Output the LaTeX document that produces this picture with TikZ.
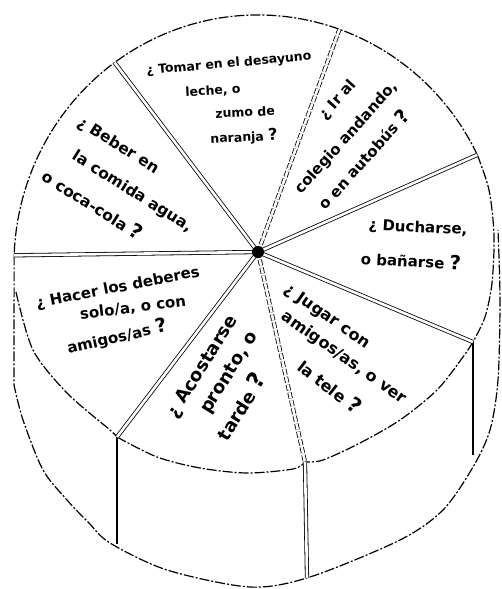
\documentclass[tikz,border=0pt]{standalone}
\usepackage{fontspec}
\setmainfont{DejaVu Sans}
\usepackage{graphicx}
\usetikzlibrary{calc}
\newcommand{\qsize}[1]{\bfseries\fontsize{#1}{#1}\selectfont}
\newcommand{\qm}{\scalebox{1.3}{?}}
\tikzset{
    rim/.style={line width=1.2pt,dash pattern=on 10pt off 2pt on 2pt off 2pt},
    spoke/.style={double=white,double distance=2.6pt,line width=0.8pt},
    dspoke/.style={spoke,dash pattern=on 6pt off 2pt},
    post/.style={line width=1.3pt},
    txt/.style={inner sep=0pt}
}
\begin{document}
\begin{tikzpicture}[x=1pt,y=-1pt]
    \useasboundingbox (0,0) rectangle (501,589);
    % top face centre and hub
    \coordinate (O)  at (258,264);
    \coordinate (C)  at (258,252);
    % spoke ends
    \coordinate (tl) at ($(O)+(-126:244 and 249)$);
    \coordinate (tr) at ($(O)+(-70.5:244 and 249)$);
    \coordinate (ru) at ($(O)+(-26:244 and 249)$);
    \coordinate (le) at ($(O)+(-178:244 and 249)$);
    \coordinate (rl) at (473,342);
    \coordinate (bo) at (305,462);
    \coordinate (bl) at (117,437);
    % feet of the side posts
    \coordinate (rlb) at (473,455);
    \coordinate (bob) at (307,578);
    \coordinate (blb) at (117,544);

    % outline of the wheel
    \draw[rim] (ru) arc[start angle=-26,end angle=-178,x radius=244,y radius=249];
    \draw[rim] (le) -- plot[smooth] coordinates {(14,385) (23,420) (43,470) (67,500) (88,522) (110,543)
        (167,570) (250,587) (310,577) (400,540) (443,510) (473,467) (490,430) (498,380) (500,300) (498,230)};

    % inner edges of the slices
    \draw[rim] plot[smooth] coordinates {(ru) (489,190) (494,235) (492,283) (485,317) (rl)};
    \draw[rim] plot[smooth] coordinates {(rl) (463,357) (437,390) (400,420) (360,443) (323,460) (bo)};
    \draw[rim] plot[smooth] coordinates {(bl) (157,457) (200,468) (247,473) (293,469) (bo)};
    \draw[rim] plot[smooth] coordinates {(16,292) (33,350) (67,393) (110,430) (bl)};

    % side posts
    \draw[post] (bl) -- (blb);
    \draw[spoke] (bo) -- (bob);
    \draw[post,line width=2.2pt] (rl) -- (rlb);

    % spokes
    \foreach \e in {tl,ru,rl,bl,le}
        \draw[spoke] (C) -- (\e);
    \draw[dspoke] (C) -- (tr);
    \draw[dspoke] (C) -- (bo);
    \fill (C) circle (6);

    % questions
    \node[txt,font=\qsize{12.5},rotate=5] (t1) at (229,64)  {¿ Tomar en el desayuno};
    \node[txt,font=\qsize{12.5},rotate=3] (t2) at (213,91)  {leche, o};
    \node[txt,font=\qsize{12.5},rotate=3] (t3) at (245,112) {zumo de};
    \node[txt,font=\qsize{12.5},rotate=3] (t4) at (244,137) {naranja \qm};

    \node[txt,font=\qsize{15},rotate=48] (c1) at (338,100) {¿ Ir al};
    \node[txt,font=\qsize{15},rotate=48] (c2) at (347,138) {colegio andando,};
    \node[txt,font=\qsize{15},rotate=48] (c3) at (363,159) {o en autobús \qm};

    \node[txt,font=\qsize{15.5},rotate=-32] (b1) at (118,146) {¿ Beber en};
    \node[txt,font=\qsize{15.5},rotate=-32] (b2) at (132,192) {la comida agua,};
    \node[txt,font=\qsize{15.5},rotate=-32] (b3) at (93,204)  {o coca-cola \qm};

    \node[txt,font=\qsize{15},rotate=-3] (d1) at (418,228) {¿ Ducharse,};
    \node[txt,font=\qsize{15},rotate=-3] (d2) at (411,260) {o bañarse \qm};

    \node[txt,font=\qsize{16},rotate=-35] (j1) at (327,317) {¿ Jugar con};
    \node[txt,font=\qsize{16},rotate=-35] (j2) at (344,358) {amigos/as, o ver};
    \node[txt,font=\qsize{16},rotate=-38] (j3) at (330,386) {la tele \qm};

    \node[txt,font=\qsize{18},rotate=58] (a1) at (203,367) {¿ Acostarse};
    \node[txt,font=\qsize{18},rotate=58] (a2) at (230,373) {pronto, o};
    \node[txt,font=\qsize{18},rotate=58] (a3) at (240,406) {tarde \qm};

    \node[txt,font=\qsize{15},rotate=11] (h1) at (118,288) {¿ Hacer los deberes};
    \node[txt,font=\qsize{15},rotate=7]  (h2) at (133,308) {solo/a, o con};
    \node[txt,font=\qsize{15},rotate=13] (h3) at (117,337) {amigos/as \qm};
\end{tikzpicture}
\end{document}
